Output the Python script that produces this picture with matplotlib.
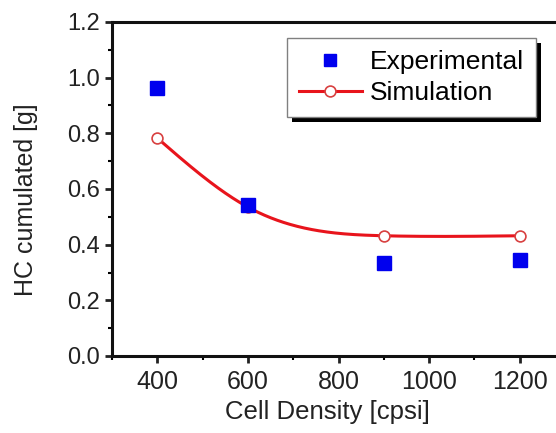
import numpy as np
import matplotlib
matplotlib.use("Agg")
import matplotlib.pyplot as plt
from matplotlib.ticker import MultipleLocator, FormatStrFormatter
from matplotlib.patches import Rectangle
from matplotlib.transforms import IdentityTransform

plt.rcParams['font.family'] = ['Liberation Sans', 'DejaVu Sans']

cell_density = [400, 600, 900, 1200]
experimental = [0.963, 0.543, 0.334, 0.345]
simulation = [0.783, 0.535, 0.432, 0.432]


def natural_spline(x, y, xs):
    x = np.asarray(x, float); y = np.asarray(y, float)
    n = len(x)
    h = np.diff(x)
    A = np.zeros((n, n)); b = np.zeros(n)
    A[0, 0] = 1; A[-1, -1] = 1
    for i in range(1, n - 1):
        A[i, i - 1] = h[i - 1]
        A[i, i] = 2 * (h[i - 1] + h[i])
        A[i, i + 1] = h[i]
        b[i] = 6 * ((y[i + 1] - y[i]) / h[i] - (y[i] - y[i - 1]) / h[i - 1])
    M = np.linalg.solve(A, b)
    out = np.empty_like(xs)
    for k, t in enumerate(xs):
        i = min(max(np.searchsorted(x, t) - 1, 0), n - 2)
        a = x[i + 1] - t; c = t - x[i]
        out[k] = (M[i] * a**3 + M[i + 1] * c**3) / (6 * h[i]) \
            + (y[i] / h[i] - M[i] * h[i] / 6) * a + (y[i + 1] / h[i] - M[i + 1] * h[i] / 6) * c
    return out


fig = plt.figure(figsize=(5.56, 4.33), dpi=100)
ax = fig.add_axes([112 / 556, 77 / 433, 453 / 556, 334 / 433])

red = '#e8141c'
mred = '#d84040'
blue = '#0000ee'

xs = np.linspace(cell_density[0], cell_density[-1], 400)
ys = natural_spline(cell_density, simulation, xs)
ax.plot(xs, ys, color=red, lw=2.2, zorder=2)
ax.plot(cell_density, simulation, ls='none', marker='o', ms=7.8, mfc='white',
        mec=mred, mew=1.2, zorder=3)
ax.plot(cell_density, experimental, ls='none', marker='s', ms=10.5, color=blue,
        zorder=4)

# legend handles
h1, = ax.plot([], [], ls='none', marker='s', ms=9, color=blue)
h2, = ax.plot([], [], color=red, lw=2.2, marker='o', ms=7.8, mfc='white',
              mec=mred, mew=1.2)
leg = ax.legend([h1, h2], ['Experimental', 'Simulation'], loc='upper left',
                bbox_to_anchor=(0.386, 0.952), borderaxespad=0, fontsize=19,
                fancybox=False, frameon=True, edgecolor='#808080', framealpha=1,
                handlelength=2.4, handletextpad=0.3, borderpad=0.45,
                labelspacing=0.28)
leg.get_frame().set_linewidth(1.0)
leg.set_zorder(6)

ax.set_xlim(300, 1300)
ax.set_ylim(0, 1.2)
ax.xaxis.set_major_locator(MultipleLocator(200))
ax.xaxis.set_minor_locator(MultipleLocator(100))
ax.yaxis.set_major_locator(MultipleLocator(0.2))
ax.yaxis.set_minor_locator(MultipleLocator(0.1))
ax.yaxis.set_major_formatter(FormatStrFormatter('%.1f'))
ax.tick_params(which='major', direction='out', length=5, width=2,
               colors='#222222')
ax.tick_params(axis='y', labelsize=17)
ax.tick_params(axis='x', labelsize=18, pad=5)
ax.tick_params(which='minor', direction='out', length=3, width=1.5)
for s in ax.spines.values():
    s.set_linewidth(2.2)
    s.set_color('#111111')

ax.set_xlabel('Cell Density [cpsi]', fontsize=18.5, color='#222222')
ax.set_ylabel('HC cumulated [g]', fontsize=18, color='#222222')
ax.xaxis.set_label_coords(0.476, -0.132)
ax.yaxis.set_label_coords(-0.163, 0.467)

# black drop shadow behind legend box
fig.canvas.draw()
bb = leg.get_frame().get_window_extent(fig.canvas.get_renderer())
shadow = Rectangle((bb.x0 + 5, bb.y0 - 5), bb.width, bb.height,
                   transform=IdentityTransform(), facecolor='black',
                   edgecolor='none', zorder=5.5, clip_on=False)
ax.add_artist(shadow)

fig.savefig('out.png', dpi=100)
